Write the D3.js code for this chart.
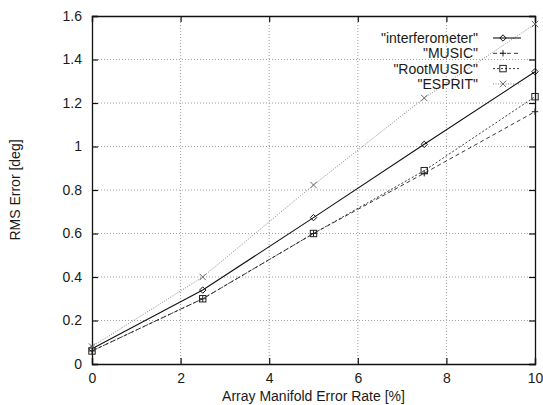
<!DOCTYPE html>
<html><head><meta charset="utf-8">
<script src="https://cdn.jsdelivr.net/npm/d3@7"></script>
<style>
body{margin:0;background:#fff;}
text{font-family:"Liberation Sans",Arial,Helvetica,sans-serif;font-size:14px;fill:#1a1a1a;}
</style></head>
<body><svg id="c" width="543" height="405"></svg>
<script>
const xValues = [0, 2.5, 5, 7.5, 10];
const interferometer = [0.07, 0.34, 0.673, 1.01, 1.344];
const music = [0.06, 0.30, 0.60, 0.877, 1.16];
const rootMusic = [0.06, 0.30, 0.60, 0.889, 1.229];
const esprit = [0.08, 0.40, 0.823, 1.223, 1.563];
const seriesNames = ['"interferometer"', '"MUSIC"', '"RootMUSIC"', '"ESPRIT"'];
const xTicks = [0, 2, 4, 6, 8, 10];
const yTicks = [0, 0.2, 0.4, 0.6, 0.8, 1, 1.2, 1.4, 1.6];

const svg = d3.select("#c");
const L = 92, R = 535, T = 16, B = 364;
const x = d3.scaleLinear().domain([0, 10]).range([L, R]);
const y = d3.scaleLinear().domain([0, 1.6]).range([B, T]);

// grid
const g = svg.append("g");
g.selectAll(".gx").data(xTicks.slice(1, -1)).enter().append("line")
  .attr("x1", d => x(d)).attr("x2", d => x(d)).attr("y1", T).attr("y2", B)
  .attr("stroke", "#888").attr("stroke-width", 0.8).attr("stroke-dasharray", "1,2");
g.selectAll(".gy").data(yTicks.slice(1, -1)).enter().append("line")
  .attr("x1", L).attr("x2", R).attr("y1", d => y(d)).attr("y2", d => y(d))
  .attr("stroke", "#888").attr("stroke-width", 0.8).attr("stroke-dasharray", "1,2");

// axes
const fmt = d => d3.format("~g")(d);
const ax = [
  svg.append("g").attr("transform", `translate(0,${B})`).call(d3.axisBottom(x).tickValues(xTicks).tickSize(-6).tickPadding(9).tickFormat(fmt)),
  svg.append("g").attr("transform", `translate(0,${T})`).call(d3.axisTop(x).tickValues(xTicks).tickSize(-6).tickFormat("")),
  svg.append("g").attr("transform", `translate(${L},0)`).call(d3.axisLeft(y).tickValues(yTicks).tickSize(-6).tickPadding(10).tickFormat(fmt)),
  svg.append("g").attr("transform", `translate(${R},0)`).call(d3.axisRight(y).tickValues(yTicks).tickSize(-6).tickFormat(""))
];
ax.forEach(a => {
  a.select(".domain").attr("stroke", "#111").attr("stroke-width", 1.3);
  a.selectAll(".tick line").attr("stroke", "#111").attr("stroke-width", 1.2);
  a.selectAll(".tick text").style("font-size", "14px").attr("fill", "#1a1a1a");
});

svg.append("text").attr("x", (L + R) / 2).attr("y", 401).attr("text-anchor", "middle")
  .text("Array Manifold Error Rate [%]");
svg.append("text").attr("transform", `translate(20,${(T + B) / 2}) rotate(-90)`).attr("text-anchor", "middle")
  .text("RMS Error [deg]");

const series = [
  {name: seriesNames[0], vals: interferometer, dash: null, color: "#111", w: 1.1, mk: "diamond"},
  {name: seriesNames[1], vals: music, dash: "4,3", color: "#222", w: 0.9, mk: "plus"},
  {name: seriesNames[2], vals: rootMusic, dash: "2,2", color: "#222", w: 0.9, mk: "square"},
  {name: seriesNames[3], vals: esprit, dash: "1,1.5", color: "#666", w: 0.8, mk: "cross"}
];

function marker(sel, type, cx, cy, color) {
  const s = 3.2;
  if (type === "diamond") {
    sel.append("path").attr("d", `M${cx},${cy - s}L${cx + s},${cy}L${cx},${cy + s}L${cx - s},${cy}Z`)
      .attr("fill", "none").attr("stroke", color).attr("stroke-width", 1);
  } else if (type === "plus") {
    sel.append("path").attr("d", `M${cx - s},${cy}H${cx + s}M${cx},${cy - s}V${cy + s}`)
      .attr("stroke", color).attr("stroke-width", 1);
  } else if (type === "square") {
    sel.append("rect").attr("x", cx - s).attr("y", cy - s).attr("width", 2 * s).attr("height", 2 * s)
      .attr("fill", "none").attr("stroke", color).attr("stroke-width", 1);
  } else {
    sel.append("path").attr("d", `M${cx - s},${cy - s}L${cx + s},${cy + s}M${cx + s},${cy - s}L${cx - s},${cy + s}`)
      .attr("stroke", color).attr("stroke-width", 1);
  }
}

const line = d3.line().x((d, i) => x(xValues[i])).y(d => y(d));
series.forEach(s => {
  svg.append("path").attr("d", line(s.vals)).attr("fill", "none").attr("stroke", s.color)
    .attr("stroke-width", s.w).attr("stroke-dasharray", s.dash);
  const mg = svg.append("g");
  s.vals.forEach((v, i) => marker(mg, s.mk, x(xValues[i]), y(v), s.color));
});

// legend
series.forEach((s, i) => {
  const ly = 38 + i * 15.3;
  svg.append("text").attr("x", 478).attr("y", ly + 5).attr("text-anchor", "end").text(s.name);
  svg.append("line").attr("x1", 493).attr("x2", 521).attr("y1", ly).attr("y2", ly)
    .attr("stroke", s.color).attr("stroke-width", s.w).attr("stroke-dasharray", s.dash);
  marker(svg, s.mk, 503, ly, s.color);
});
</script></body></html>
